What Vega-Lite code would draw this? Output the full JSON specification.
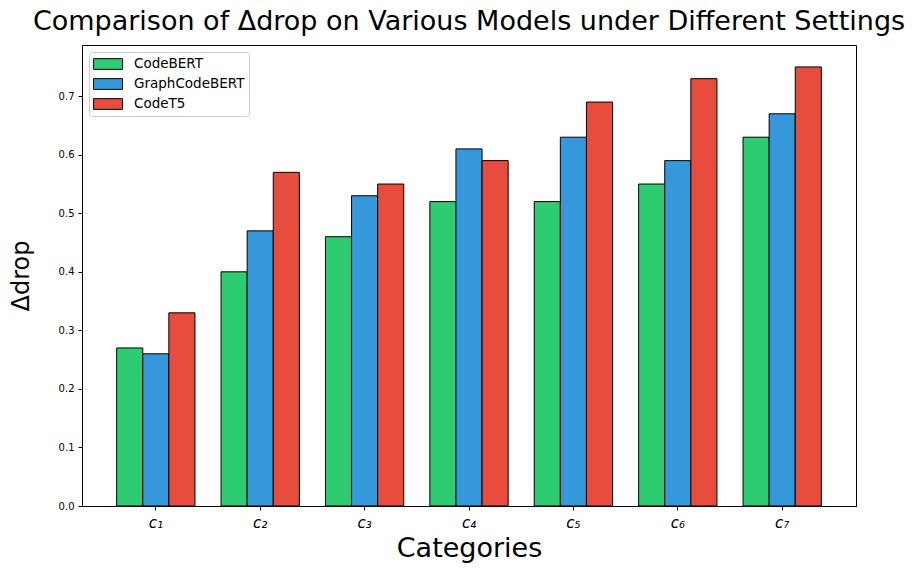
{
  "$schema": "https://vega.github.io/schema/vega-lite/v6.json",
  "width": 774,
  "height": 461,
  "autosize": {"type": "none"},
  "padding": {"left": 82, "top": 45, "right": 63, "bottom": 68},
  "background": "white",
  "title": {
    "text": "Comparison of Δdrop on Various Models under Different Settings",
    "font": "DejaVu Sans",
    "fontSize": 27,
    "fontWeight": "normal",
    "color": "black",
    "anchor": "middle",
    "baseline": "alphabetic",
    "offset": 12,
    "dy": 24
  },
  "config": {
    "view": {"stroke": "black", "strokeWidth": 1},
    "font": "DejaVu Sans",
    "axis": {
      "domainColor": "black",
      "tickColor": "black",
      "labelColor": "black",
      "titleColor": "black",
      "labelFont": "DejaVu Sans",
      "titleFont": "DejaVu Sans",
      "titleFontWeight": "normal",
      "grid": false,
      "tickSize": 4
    }
  },
  "data": {
    "values": [
      {"cat": "c₁", "model": "CodeBERT", "value": 0.27},
      {"cat": "c₁", "model": "GraphCodeBERT", "value": 0.26},
      {"cat": "c₁", "model": "CodeT5", "value": 0.33},
      {"cat": "c₂", "model": "CodeBERT", "value": 0.40},
      {"cat": "c₂", "model": "GraphCodeBERT", "value": 0.47},
      {"cat": "c₂", "model": "CodeT5", "value": 0.57},
      {"cat": "c₃", "model": "CodeBERT", "value": 0.46},
      {"cat": "c₃", "model": "GraphCodeBERT", "value": 0.53},
      {"cat": "c₃", "model": "CodeT5", "value": 0.55},
      {"cat": "c₄", "model": "CodeBERT", "value": 0.52},
      {"cat": "c₄", "model": "GraphCodeBERT", "value": 0.61},
      {"cat": "c₄", "model": "CodeT5", "value": 0.59},
      {"cat": "c₅", "model": "CodeBERT", "value": 0.52},
      {"cat": "c₅", "model": "GraphCodeBERT", "value": 0.63},
      {"cat": "c₅", "model": "CodeT5", "value": 0.69},
      {"cat": "c₆", "model": "CodeBERT", "value": 0.55},
      {"cat": "c₆", "model": "GraphCodeBERT", "value": 0.59},
      {"cat": "c₆", "model": "CodeT5", "value": 0.73},
      {"cat": "c₇", "model": "CodeBERT", "value": 0.63},
      {"cat": "c₇", "model": "GraphCodeBERT", "value": 0.67},
      {"cat": "c₇", "model": "CodeT5", "value": 0.75}
    ]
  },
  "mark": {"type": "bar", "stroke": "black", "strokeWidth": 1, "opacity": 1},
  "encoding": {
    "x": {
      "field": "cat",
      "type": "nominal",
      "sort": ["c₁", "c₂", "c₃", "c₄", "c₅", "c₆", "c₇"],
      "scale": {"paddingInner": 0.25, "paddingOuter": 0.332},
      "axis": {
        "title": "Categories",
        "titleFontSize": 27,
        "titlePadding": 5,
        "labelAngle": 0,
        "labelFontSize": 15,
        "labelFontStyle": "italic",
        "labelPadding": 5
      }
    },
    "xOffset": {
      "field": "model",
      "type": "nominal",
      "sort": ["CodeBERT", "GraphCodeBERT", "CodeT5"],
      "scale": {"paddingInner": 0, "paddingOuter": 0}
    },
    "y": {
      "field": "value",
      "type": "quantitative",
      "scale": {"domain": [0, 0.7875], "nice": false},
      "axis": {
        "title": "Δdrop",
        "titleFontSize": 24,
        "titlePadding": 25,
        "labelFontSize": 10,
        "format": ".1f",
        "values": [0, 0.1, 0.2, 0.3, 0.4, 0.5, 0.6, 0.7],
        "labelPadding": 4
      }
    },
    "color": {
      "field": "model",
      "type": "nominal",
      "sort": ["CodeBERT", "GraphCodeBERT", "CodeT5"],
      "scale": {
        "domain": ["CodeBERT", "GraphCodeBERT", "CodeT5"],
        "range": ["#2ecc71", "#3498db", "#e74c3c"]
      },
      "legend": {
        "title": null,
        "orient": "top-left",
        "offset": 7,
        "padding": 4,
        "strokeColor": "#cccccc",
        "fillColor": "white",
        "cornerRadius": 3,
        "labelFontSize": 13.5,
        "labelFont": "DejaVu Sans",
        "labelColor": "black",
        "labelOffset": 11,
        "symbolType": "M-1,-0.37H1V0.37H-1Z",
        "symbolSize": 841,
        "symbolStrokeColor": "black",
        "symbolStrokeWidth": 1,
        "symbolOpacity": 1,
        "clipHeight": 16,
        "rowPadding": 4
      }
    }
  }
}
